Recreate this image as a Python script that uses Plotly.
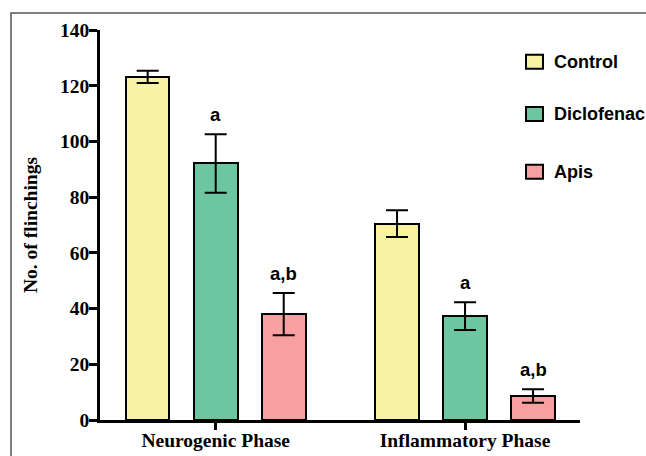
import plotly.graph_objects as go

phases = ["Neurogenic Phase", "Inflammatory Phase"]
groups = ["Control", "Diclofenac", "Apis"]
means = {
    "Control": [123.2, 70.5],
    "Diclofenac": [92.1, 37.3],
    "Apis": [38.0, 8.6],
}
errors = {
    "Control": [2.2, 4.8],
    "Diclofenac": [10.5, 5.0],
    "Apis": [7.6, 2.4],
}
labels = {
    "Control": ["", ""],
    "Diclofenac": ["a", "a"],
    "Apis": ["a,b", "a,b"],
}
colors = {"Control": "#F7F3A3", "Diclofenac": "#6CC6A0", "Apis": "#F6A0A2"}
y_ticks = [0, 20, 40, 60, 80, 100, 120, 140]

offset_step = 0.2728
bar_width = 0.175

fig = go.Figure()
annotations = []
shapes = [dict(
    type="rect", xref="paper", yref="paper",
    x0=-0.1854, x1=1.3, y0=-0.3, y1=1.0436,
    line=dict(color="#555555", width=1.5), layer="below",
)]
bold_sans = dict(family="Liberation Sans", size=18.5, color="black", weight="bold")
legend_font = dict(family="Liberation Sans", size=18, color="black", weight="bold")

for gi, g in enumerate(groups):
    xs = [pi + (gi - 1) * offset_step for pi in range(len(phases))]
    fig.add_trace(go.Bar(
        x=xs, y=means[g], width=bar_width, name=g, showlegend=False,
        marker=dict(color=colors[g], line=dict(color="black", width=2)),
        error_y=dict(type="data", array=errors[g], visible=True,
                     color="black", thickness=2, width=11),
        hoverinfo="skip",
    ))
    for x, m, e, t in zip(xs, means[g], errors[g], labels[g]):
        if t:
            annotations.append(dict(
                x=x, y=m + e, xref="x", yref="y", text=t, showarrow=False,
                yanchor="bottom", yshift=7, font=bold_sans,
            ))

# manual legend (paper coordinates)
legend_y = [0.9187, 0.7846, 0.6367]
for g, ly in zip(groups, legend_y):
    shapes.append(dict(
        type="rect", xref="paper", yref="paper",
        x0=0.8875, x1=0.9229, y0=ly - 0.018, y1=ly + 0.018,
        fillcolor=colors[g], line=dict(color="black", width=2),
    ))
    annotations.append(dict(
        x=0.9417, y=ly, xref="paper", yref="paper", text=g, showarrow=False,
        xanchor="left", yanchor="middle", font=legend_font,
    ))

fig.update_layout(
    width=646, height=456,
    margin=dict(l=100, r=66, t=30, b=36),
    paper_bgcolor="white", plot_bgcolor="white",
    bargap=0, barmode="overlay",
    annotations=annotations,
    shapes=shapes,
    showlegend=False,
)
fig.update_xaxes(
    range=[-0.464, 1.461], tickmode="array", tickvals=[0, 1], ticktext=phases,
    showline=True, linecolor="black", linewidth=2.5,
    ticks="outside", ticklen=7, tickwidth=2.5, tickcolor="black",
    showgrid=False, zeroline=False, automargin=False, ticklabelstandoff=-6,
    tickfont=dict(family="Liberation Serif", size=19.5, color="black", weight="bold"),
)
fig.update_yaxes(
    range=[0, 140], tickmode="array", tickvals=y_ticks,
    showline=True, linecolor="black", linewidth=2.5,
    ticks="outside", ticklen=8, tickwidth=2.5, tickcolor="black",
    showgrid=False, zeroline=False, automargin=False, ticklabelstandoff=-4,
    tickfont=dict(family="Liberation Serif", size=19.5, color="black", weight="bold"),
    title=dict(text="No. of flinchings", standoff=18,
               font=dict(family="Liberation Serif", size=19.5, color="black", weight="bold")),
)
fig.write_html(
    "out.html",
    config={"displayModeBar": False},
    post_script="document.body.style.margin='0';document.body.style.overflow='hidden';",
)
